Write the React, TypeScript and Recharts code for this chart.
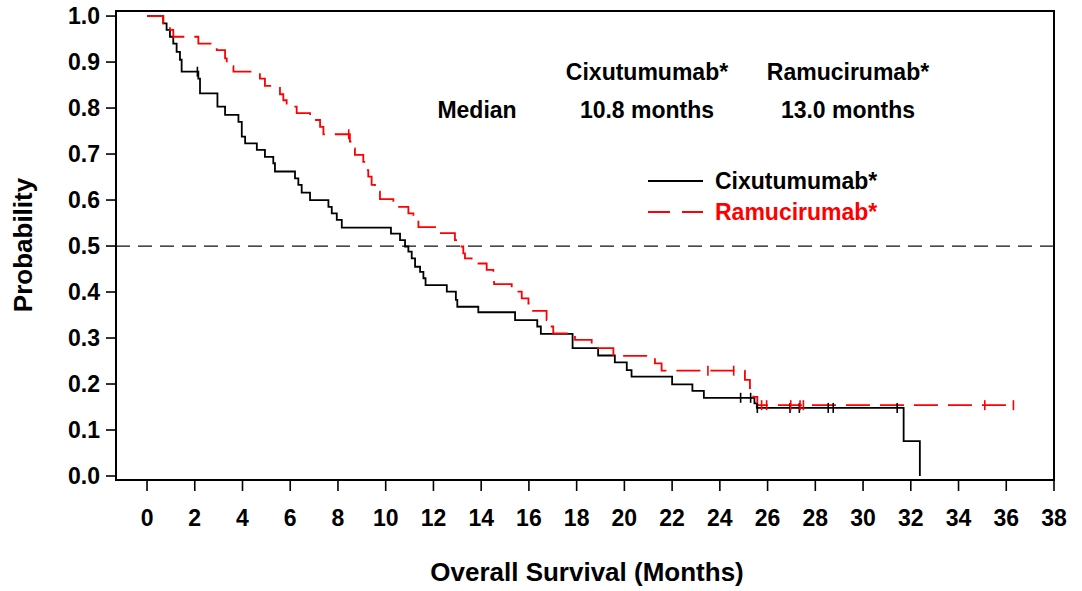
import { ComposedChart, Line, Scatter, XAxis, YAxis, ReferenceLine, ReferenceArea } from 'recharts';

// Kaplan-Meier steps: time (months), survival after the event
const cixTimes = [0, 0.68, 0.82, 0.96, 1.1, 1.24, 1.38, 1.45, 2.15, 2.22, 2.95, 3.27, 3.83, 3.97, 4.11, 4.6, 4.94, 5.29, 5.36, 6.2, 6.34, 6.48, 6.83, 7.6, 7.74, 7.95, 8.16, 10.22, 10.6, 10.81, 10.95, 11.09, 11.23, 11.44, 11.58, 11.67, 12.56, 12.94, 13.0, 13.88, 15.42, 16.35, 16.5, 17.83, 18.9, 19.6, 20.1, 20.3, 22.0, 22.85, 23.33, 25.45, 25.55, 31.7, 32.38];
const cixSurv = [1.0, 0.984, 0.97, 0.955, 0.94, 0.922, 0.905, 0.879, 0.864, 0.832, 0.803, 0.785, 0.77, 0.738, 0.723, 0.709, 0.694, 0.68, 0.662, 0.647, 0.633, 0.616, 0.6, 0.585, 0.571, 0.557, 0.54, 0.527, 0.513, 0.499, 0.488, 0.473, 0.455, 0.444, 0.43, 0.415, 0.401, 0.383, 0.368, 0.356, 0.339, 0.325, 0.309, 0.278, 0.262, 0.247, 0.23, 0.216, 0.199, 0.185, 0.17, 0.158, 0.148, 0.076, 0.0];
const cixCensorTimes = [2.11, 24.87, 25.29, 25.57, 26.94, 27.33, 28.54, 28.75, 31.43];
const cixCensorSurv = [0.879, 0.17, 0.17, 0.148, 0.148, 0.148, 0.148, 0.148, 0.148];

const ramTimes = [0, 0.68, 0.96, 1.1, 2.15, 2.92, 3.27, 3.34, 3.62, 4.73, 4.94, 5.57, 5.71, 5.85, 6.27, 6.83, 7.25, 7.39, 8.5, 8.57, 8.71, 9.06, 9.2, 9.27, 9.41, 9.55, 9.76, 10.32, 10.95, 11.16, 11.37, 12.14, 12.9, 13.04, 13.25, 13.32, 13.6, 14.23, 14.51, 14.54, 15.28, 15.7, 15.98, 16.12, 16.74, 16.95, 17.02, 17.93, 18.63, 19.54, 21.28, 21.56, 25.05, 25.26, 25.4, 25.57, 36.3];
const ramSurv = [1.0, 0.984, 0.97, 0.955, 0.94, 0.926, 0.908, 0.891, 0.879, 0.864, 0.848, 0.83, 0.817, 0.803, 0.789, 0.774, 0.759, 0.743, 0.727, 0.712, 0.698, 0.683, 0.665, 0.651, 0.633, 0.618, 0.602, 0.585, 0.571, 0.557, 0.541, 0.528, 0.513, 0.499, 0.484, 0.473, 0.462, 0.448, 0.433, 0.417, 0.401, 0.386, 0.375, 0.359, 0.339, 0.325, 0.31, 0.296, 0.278, 0.261, 0.245, 0.229, 0.209, 0.191, 0.172, 0.154, 0.154];
const ramCensorTimes = [8.45, 23.5, 24.58, 25.75, 25.96, 26.97, 27.36, 27.5, 35.1, 36.3];
const ramCensorSurv = [0.743, 0.229, 0.229, 0.154, 0.154, 0.154, 0.154, 0.154, 0.154, 0.154];

const xTicks = [0, 2, 4, 6, 8, 10, 12, 14, 16, 18, 20, 22, 24, 26, 28, 30, 32, 34, 36, 38];
const yTicks = [0, 0.1, 0.2, 0.3, 0.4, 0.5, 0.6, 0.7, 0.8, 0.9, 1.0];
const xDomain = [-1.3, 38];
const yDomain = [-0.0087, 1.011];

const seriesNames = ['Cixutumumab*', 'Ramucirumab*'];
const medians = ['10.8 months', '13.0 months'];

const toPoints = (ts: number[], ps: number[]) => ts.map((t, i) => ({ t, p: ps[i] }));

const cixData = toPoints(cixTimes, cixSurv);
const ramData = toPoints(ramTimes, ramSurv);
const cixCensored = toPoints(cixCensorTimes, cixCensorSurv);
const ramCensored = toPoints(ramCensorTimes, ramCensorSurv);

const FONT = '"Liberation Sans", Arial, Helvetica, sans-serif';
const RED = '#ff0000';

const censorMark = (color: string) => (props: any) => (
  <line x1={props.cx} x2={props.cx} y1={props.cy - 5} y2={props.cy + 5} stroke={color} strokeWidth={1.6} />
);

export default function App() {
  const tickStyle = { fill: '#000', fontSize: 23, fontWeight: 700, fontFamily: FONT };
  return (
    <div style={{ position: 'fixed', left: 0, top: 0, width: 1082, height: 591, background: '#fff' }}>
      <ComposedChart width={1082} height={591} margin={{ top: 11, right: 28, bottom: 0, left: 0 }}>
        <XAxis
          dataKey="t"
          type="number"
          domain={xDomain}
          ticks={xTicks}
          interval={0}
          allowDataOverflow
          height={111}
          tickSize={11}
          tickMargin={19}
          tick={tickStyle}
          axisLine={{ stroke: '#000', strokeWidth: 2 }}
          tickLine={{ stroke: '#000', strokeWidth: 1.6 }}
        />
        <YAxis
          dataKey="p"
          type="number"
          domain={yDomain}
          ticks={yTicks}
          interval={0}
          allowDataOverflow
          width={116}
          tickSize={10}
          tickMargin={6}
          tick={tickStyle}
          tickFormatter={(v: number) => v.toFixed(1)}
          axisLine={{ stroke: '#000', strokeWidth: 2 }}
          tickLine={{ stroke: '#000', strokeWidth: 1.6 }}
        />
        <ReferenceArea
          x1={xDomain[0]}
          x2={xDomain[1]}
          y1={yDomain[0]}
          y2={yDomain[1]}
          fill="none"
          fillOpacity={0}
          stroke="#000"
          strokeWidth={2}
          ifOverflow="visible"
        />
        <ReferenceLine y={0.5} stroke="#111" strokeWidth={1.3} strokeDasharray="14 8" />
        <Line
          data={cixData}
          dataKey="p"
          type="stepAfter"
          stroke="#000"
          strokeWidth={1.8}
          dot={false}
          isAnimationActive={false}
        />
        <Line
          data={ramData}
          dataKey="p"
          type="stepAfter"
          stroke={RED}
          strokeWidth={1.8}
          strokeDasharray="24 10"
          dot={false}
          isAnimationActive={false}
        />
        <Scatter data={cixCensored} dataKey="p" shape={censorMark('#000')} isAnimationActive={false} />
        <Scatter data={ramCensored} dataKey="p" shape={censorMark(RED)} isAnimationActive={false} />
      </ComposedChart>

      <svg
        width={1082}
        height={591}
        style={{ position: 'absolute', left: 0, top: 0, pointerEvents: 'none' }}
        fontFamily={FONT}
        fontWeight={700}
      >
        <text x={477} y={110} fontSize={23} textAnchor="middle" dominantBaseline="central">Median</text>
        <text x={647} y={72} fontSize={23} textAnchor="middle" dominantBaseline="central">{seriesNames[0]}</text>
        <text x={647} y={110} fontSize={23} textAnchor="middle" dominantBaseline="central">{medians[0]}</text>
        <text x={848} y={72} fontSize={23} textAnchor="middle" dominantBaseline="central">{seriesNames[1]}</text>
        <text x={848} y={110} fontSize={23} textAnchor="middle" dominantBaseline="central">{medians[1]}</text>

        <line x1={648} x2={703} y1={181} y2={181} stroke="#000" strokeWidth={1.8} />
        <text x={715} y={181} fontSize={23} dominantBaseline="central">{seriesNames[0]}</text>
        <line x1={648} x2={703} y1={212} y2={212} stroke={RED} strokeWidth={1.8} strokeDasharray="22 12" />
        <text x={715} y={212} fontSize={23} fill={RED} dominantBaseline="central">{seriesNames[1]}</text>

        <text x={587} y={572} fontSize={26} textAnchor="middle" dominantBaseline="central">Overall Survival (Months)</text>
        <text x={23} y={245} fontSize={26} textAnchor="middle" dominantBaseline="central" transform="rotate(-90 23 245)">Probability</text>
      </svg>
    </div>
  );
}
